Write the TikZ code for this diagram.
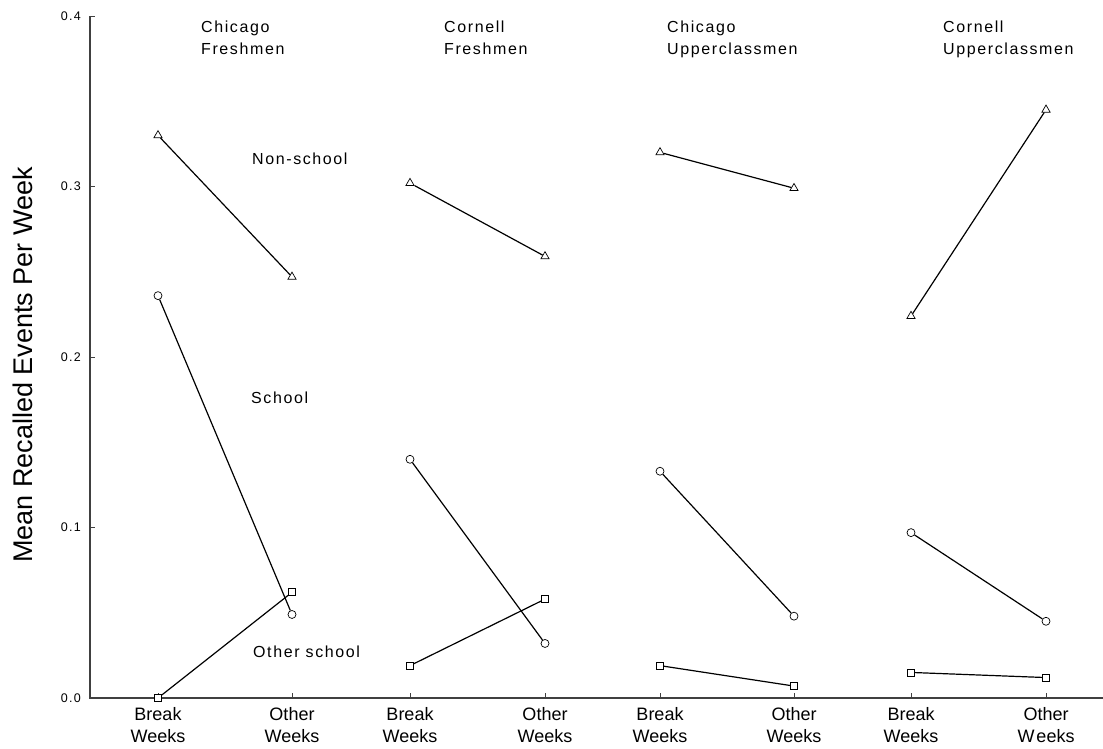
\documentclass[tikz,border=0pt]{standalone}
\usepackage{fontspec}
\setmainfont{Liberation Sans}
\newfontfamily\spc[LetterSpace=10]{Liberation Sans}
\usetikzlibrary{shapes.geometric}
\begin{document}
\begin{tikzpicture}[x=1pt,y=-1pt,
  axis/.style={draw=black!75, line width=1.1pt},
  tickline/.style={draw=black!75, line width=0.8pt},
  dataline/.style={draw=black, line width=1.2pt},
  tri/.style={draw=black, fill=white, regular polygon, regular polygon sides=3, minimum size=9.5pt, inner sep=0pt, line width=0.7pt},
  circ/.style={draw=black, fill=white, circle, minimum size=8pt, inner sep=0pt, line width=0.7pt},
  sq/.style={draw=black, fill=white, rectangle, minimum size=7pt, inner sep=0pt, line width=0.7pt},
  ticklab/.style={anchor=east, inner sep=0pt, font=\spc\fontsize{12.5}{14}\selectfont},
  xlab/.style={anchor=north, align=center, inner sep=0pt, font=\fontsize{18}{22}\selectfont},
  grouplab/.style={anchor=north west, align=left, inner sep=0pt, font=\spc\fontsize{16}{22}\selectfont},
  serlab/.style={anchor=base west, inner sep=0pt, font=\spc\fontsize{16}{20}\selectfont}
]
\useasboundingbox (0,0) rectangle (1103,748);
% axes
\coordinate (o) at (90,698);
\coordinate (ytop) at (90,16);
\coordinate (xend) at (1103,698);
\draw[axis] (ytop) -- (o) -- (xend);
% y ticks
\foreach \v/\t in {0/0.0,1/0.1,2/0.2,3/0.3,4/0.4}{
  \coordinate (yt\v) at (90,{698-170.5*\v});
  \draw[tickline] (yt\v) -- ++(5,0);
  \node[ticklab] (ytl\v) at (81,{698-170.5*\v}) {\t};
}
% x ticks and labels
\foreach \x/\n/\l in {158/a/{Break\\Weeks},292/b/{Other\\Weeks},410/c/{Break\\Weeks},545/d/{Other\\Weeks},660/e/{Break\\Weeks},794/f/{Other\\Weeks},911/g/{Break\\Weeks}}{
  \coordinate (xt\n) at (\x,698);
  \draw[tickline] (xt\n) -- ++(0,-5);
  \node[xlab] (xl\n) at (\x,707) {\l};
}
\coordinate (xth) at (1046,698);
\draw[tickline] (xth) -- ++(0,-5);
\node[xlab] (xlh) at (1046,707) {Other\\W\kern2pt eeks};
% y label
\node[anchor=base, rotate=90, inner sep=0pt, font=\fontsize{27}{30}\selectfont] (ylab) at (32,365) {Mean Recalled Events Per Week};
% group labels
\node[grouplab] (g1) at (201,21) {Chicago\\Freshmen};
\node[grouplab] (g2) at (444,21) {Cornell\\Freshmen};
\node[grouplab] (g3) at (667,21) {Chicago\\Upperclassmen};
\node[grouplab] (g4) at (943,21) {Cornell\\Upperclassmen};
% series labels
\node[serlab] (s1) at (252,164) {Non-school};
\node[serlab] (s2) at (251,403) {School};
\node[serlab] (s3) at (253,657) {Other school};
% data: Chicago Freshmen
\node[tri] (t1a) at (158,{698-1705*0.330}) {};
\node[tri] (t1b) at (292,{698-1705*0.247}) {};
\node[circ] (c1a) at (158,{698-1705*0.236}) {};
\node[circ] (c1b) at (292,{698-1705*0.049}) {};
\node[sq] (q1a) at (158,{698-1705*0.000}) {};
\node[sq] (q1b) at (292,{698-1705*0.062}) {};
% Cornell Freshmen
\node[tri] (t2a) at (410,{698-1705*0.302}) {};
\node[tri] (t2b) at (545,{698-1705*0.259}) {};
\node[circ] (c2a) at (410,{698-1705*0.140}) {};
\node[circ] (c2b) at (545,{698-1705*0.032}) {};
\node[sq] (q2a) at (410,{698-1705*0.019}) {};
\node[sq] (q2b) at (545,{698-1705*0.058}) {};
% Chicago Upperclassmen
\node[tri] (t3a) at (660,{698-1705*0.320}) {};
\node[tri] (t3b) at (794,{698-1705*0.299}) {};
\node[circ] (c3a) at (660,{698-1705*0.133}) {};
\node[circ] (c3b) at (794,{698-1705*0.048}) {};
\node[sq] (q3a) at (660,{698-1705*0.019}) {};
\node[sq] (q3b) at (794,{698-1705*0.007}) {};
% Cornell Upperclassmen
\node[tri] (t4a) at (911,{698-1705*0.224}) {};
\node[tri] (t4b) at (1046,{698-1705*0.345}) {};
\node[circ] (c4a) at (911,{698-1705*0.097}) {};
\node[circ] (c4b) at (1046,{698-1705*0.045}) {};
\node[sq] (q4a) at (911,{698-1705*0.015}) {};
\node[sq] (q4b) at (1046,{698-1705*0.012}) {};
% connectors
\foreach \i in {1,2,3,4}{
  \draw[dataline] (t\i a) -- (t\i b);
  \draw[dataline] (c\i a) -- (c\i b);
  \draw[dataline] (q\i a) -- (q\i b);
}
\end{tikzpicture}
\end{document}
